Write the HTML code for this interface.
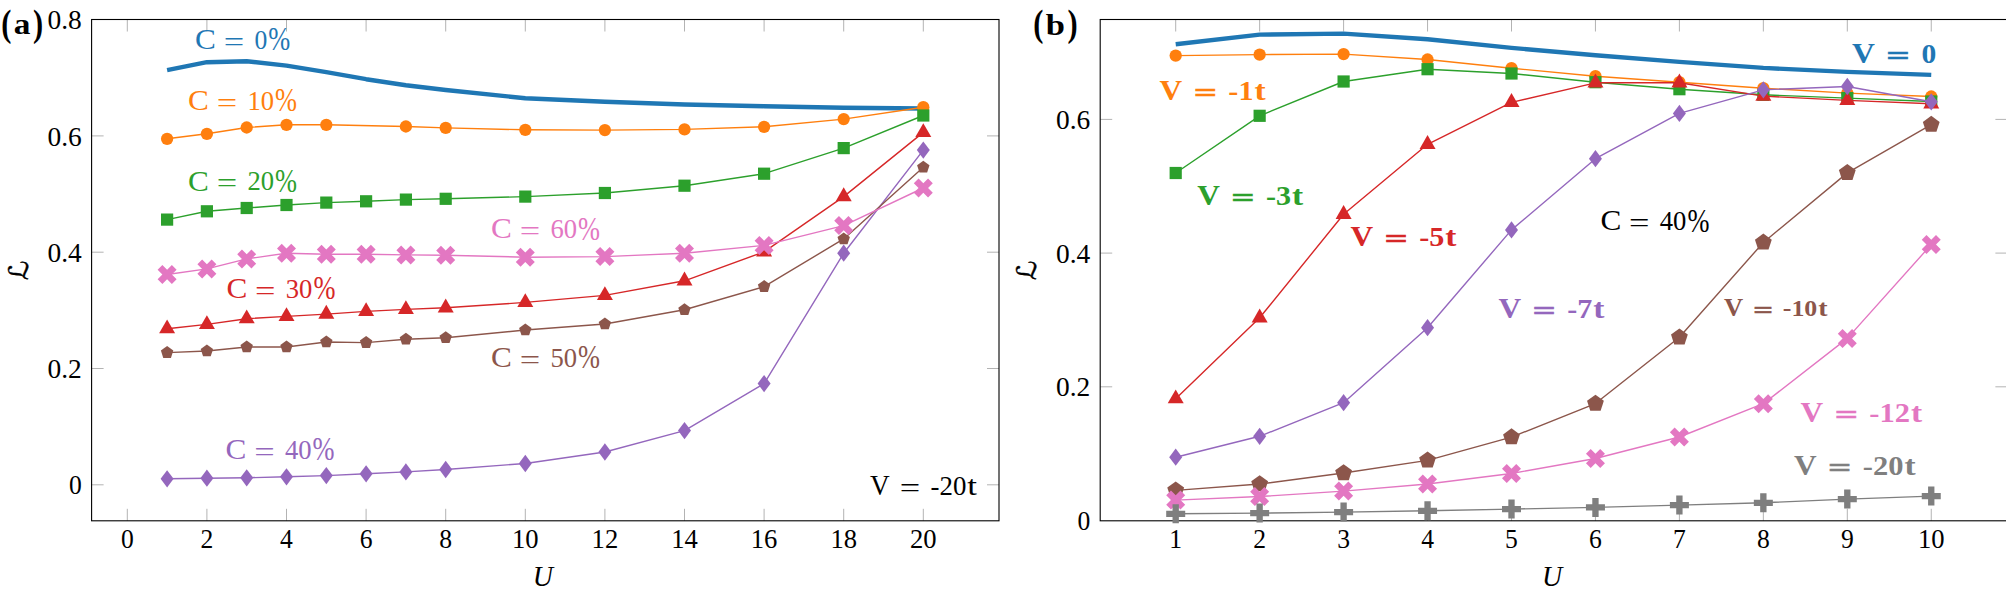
<!DOCTYPE html>
<html><head><meta charset="utf-8"><title>Localization plots</title>
<style>html,body{margin:0;padding:0;background:#fff}svg{display:block}</style>
</head><body>
<svg width="2006" height="595" viewBox="0 0 2006 595">
<rect width="2006" height="595" fill="#fff"/>
<g stroke="#7f7f7f" stroke-width="0.6" fill="none">
<path d="M127.3 520.8v-12.0M127.3 19.5v12.0"/>
<path d="M206.9 520.8v-12.0M206.9 19.5v12.0"/>
<path d="M286.5 520.8v-12.0M286.5 19.5v12.0"/>
<path d="M366.1 520.8v-12.0M366.1 19.5v12.0"/>
<path d="M445.7 520.8v-12.0M445.7 19.5v12.0"/>
<path d="M525.3 520.8v-12.0M525.3 19.5v12.0"/>
<path d="M604.9 520.8v-12.0M604.9 19.5v12.0"/>
<path d="M684.5 520.8v-12.0M684.5 19.5v12.0"/>
<path d="M764.1 520.8v-12.0M764.1 19.5v12.0"/>
<path d="M843.7 520.8v-12.0M843.7 19.5v12.0"/>
<path d="M923.3 520.8v-12.0M923.3 19.5v12.0"/>
<path d="M91.6 484.8h12.0M999 484.8h-12.0"/>
<path d="M91.6 368.5h12.0M999 368.5h-12.0"/>
<path d="M91.6 252.2h12.0M999 252.2h-12.0"/>
<path d="M91.6 135.9h12.0M999 135.9h-12.0"/>
</g>
<rect x="91.6" y="19.5" width="907.4" height="501.3" fill="none" stroke="#000" stroke-width="1.1"/>
<path d="M167.1 70.2 L206.9 62.2 L246.7 61.2 L286.5 65.6 L326.3 72.2 L366.1 79.2 L405.9 85.2 L445.7 90 L525.3 98.2 L604.9 101.8 L684.5 104.5 L764.1 106.2 L843.7 107.8 L923.3 108.5" fill="none" stroke="#1f77b4" stroke-width="4.4" stroke-linejoin="round" stroke-linecap="butt"/>
<path d="M167.1 138.8 L206.9 133.8 L246.7 127.5 L286.5 124.8 L326.3 124.8 L405.9 126.5 L445.7 127.9 L525.3 129.8 L604.9 130.1 L684.5 129.4 L764.1 126.8 L843.7 119.1 L923.3 107.2" fill="none" stroke="#ff7f0e" stroke-width="1.4" stroke-linejoin="round"/>
<circle cx="167.1" cy="138.8" r="6.15" fill="#ff7f0e"/>
<circle cx="206.9" cy="133.8" r="6.15" fill="#ff7f0e"/>
<circle cx="246.7" cy="127.5" r="6.15" fill="#ff7f0e"/>
<circle cx="286.5" cy="124.8" r="6.15" fill="#ff7f0e"/>
<circle cx="326.3" cy="124.8" r="6.15" fill="#ff7f0e"/>
<circle cx="405.9" cy="126.5" r="6.15" fill="#ff7f0e"/>
<circle cx="445.7" cy="127.9" r="6.15" fill="#ff7f0e"/>
<circle cx="525.3" cy="129.8" r="6.15" fill="#ff7f0e"/>
<circle cx="604.9" cy="130.1" r="6.15" fill="#ff7f0e"/>
<circle cx="684.5" cy="129.4" r="6.15" fill="#ff7f0e"/>
<circle cx="764.1" cy="126.8" r="6.15" fill="#ff7f0e"/>
<circle cx="843.7" cy="119.1" r="6.15" fill="#ff7f0e"/>
<circle cx="923.3" cy="107.2" r="6.15" fill="#ff7f0e"/>
<path d="M167.1 219.6 L206.9 211.3 L246.7 208 L286.5 205 L326.3 202.6 L366.1 201.3 L405.9 199.6 L445.7 198.8 L525.3 196.6 L604.9 193 L684.5 185.7 L764.1 173.7 L843.7 148.1 L923.3 115.5" fill="none" stroke="#2ca02c" stroke-width="1.4" stroke-linejoin="round"/>
<rect x="161" y="213.5" width="12.2" height="12.2" fill="#2ca02c"/>
<rect x="200.8" y="205.2" width="12.2" height="12.2" fill="#2ca02c"/>
<rect x="240.6" y="201.9" width="12.2" height="12.2" fill="#2ca02c"/>
<rect x="280.4" y="198.9" width="12.2" height="12.2" fill="#2ca02c"/>
<rect x="320.2" y="196.5" width="12.2" height="12.2" fill="#2ca02c"/>
<rect x="360" y="195.2" width="12.2" height="12.2" fill="#2ca02c"/>
<rect x="399.8" y="193.5" width="12.2" height="12.2" fill="#2ca02c"/>
<rect x="439.6" y="192.7" width="12.2" height="12.2" fill="#2ca02c"/>
<rect x="519.2" y="190.5" width="12.2" height="12.2" fill="#2ca02c"/>
<rect x="598.8" y="186.9" width="12.2" height="12.2" fill="#2ca02c"/>
<rect x="678.4" y="179.6" width="12.2" height="12.2" fill="#2ca02c"/>
<rect x="758" y="167.6" width="12.2" height="12.2" fill="#2ca02c"/>
<rect x="837.6" y="142" width="12.2" height="12.2" fill="#2ca02c"/>
<rect x="917.2" y="109.4" width="12.2" height="12.2" fill="#2ca02c"/>
<path d="M167.1 328.71 L206.9 324.41 L246.7 318.71 L286.5 316.41 L326.3 314.11 L366.1 311.41 L405.9 309.41 L445.7 307.81 L525.3 302.41 L604.9 295.41 L684.5 280.81 L764.1 251.81 L843.7 196.61 L923.3 132.41" fill="none" stroke="#d62728" stroke-width="1.4" stroke-linejoin="round"/>
<polygon points="167.1,319.47 159.1,333.33 175.1,333.33" fill="#d62728"/>
<polygon points="206.9,315.17 198.9,329.03 214.9,329.03" fill="#d62728"/>
<polygon points="246.7,309.47 238.7,323.33 254.7,323.33" fill="#d62728"/>
<polygon points="286.5,307.17 278.5,321.03 294.5,321.03" fill="#d62728"/>
<polygon points="326.3,304.87 318.3,318.73 334.3,318.73" fill="#d62728"/>
<polygon points="366.1,302.17 358.1,316.03 374.1,316.03" fill="#d62728"/>
<polygon points="405.9,300.17 397.9,314.03 413.9,314.03" fill="#d62728"/>
<polygon points="445.7,298.57 437.7,312.43 453.7,312.43" fill="#d62728"/>
<polygon points="525.3,293.17 517.3,307.03 533.3,307.03" fill="#d62728"/>
<polygon points="604.9,286.17 596.9,300.03 612.9,300.03" fill="#d62728"/>
<polygon points="684.5,271.57 676.5,285.43 692.5,285.43" fill="#d62728"/>
<polygon points="764.1,242.57 756.1,256.43 772.1,256.43" fill="#d62728"/>
<polygon points="843.7,187.37 835.7,201.23 851.7,201.23" fill="#d62728"/>
<polygon points="923.3,123.17 915.3,137.03 931.3,137.03" fill="#d62728"/>
<path d="M167.1 478.8 L206.9 478.2 L246.7 477.8 L286.5 476.8 L326.3 475.6 L366.1 473.8 L405.9 471.9 L445.7 469.5 L525.3 463.5 L604.9 452 L684.5 430.6 L764.1 383.6 L843.7 253.2 L923.3 150.1" fill="none" stroke="#9467bd" stroke-width="1.4" stroke-linejoin="round"/>
<polygon points="167.1,470.13 173.6,478.8 167.1,487.47 160.6,478.8" fill="#9467bd"/>
<polygon points="206.9,469.53 213.4,478.2 206.9,486.87 200.4,478.2" fill="#9467bd"/>
<polygon points="246.7,469.13 253.2,477.8 246.7,486.47 240.2,477.8" fill="#9467bd"/>
<polygon points="286.5,468.13 293,476.8 286.5,485.47 280,476.8" fill="#9467bd"/>
<polygon points="326.3,466.93 332.8,475.6 326.3,484.27 319.8,475.6" fill="#9467bd"/>
<polygon points="366.1,465.13 372.6,473.8 366.1,482.47 359.6,473.8" fill="#9467bd"/>
<polygon points="405.9,463.23 412.4,471.9 405.9,480.57 399.4,471.9" fill="#9467bd"/>
<polygon points="445.7,460.83 452.2,469.5 445.7,478.17 439.2,469.5" fill="#9467bd"/>
<polygon points="525.3,454.83 531.8,463.5 525.3,472.17 518.8,463.5" fill="#9467bd"/>
<polygon points="604.9,443.33 611.4,452 604.9,460.67 598.4,452" fill="#9467bd"/>
<polygon points="684.5,421.93 691,430.6 684.5,439.27 678,430.6" fill="#9467bd"/>
<polygon points="764.1,374.93 770.6,383.6 764.1,392.27 757.6,383.6" fill="#9467bd"/>
<polygon points="843.7,244.53 850.2,253.2 843.7,261.87 837.2,253.2" fill="#9467bd"/>
<polygon points="923.3,141.43 929.8,150.1 923.3,158.77 916.8,150.1" fill="#9467bd"/>
<path d="M167.1 352.62 L206.9 351.02 L246.7 347.02 L286.5 347.02 L326.3 342.02 L366.1 342.62 L405.9 339.32 L445.7 337.72 L525.3 330.02 L604.9 324.02 L684.5 309.72 L764.1 286.62 L843.7 238.92 L923.3 167.32" fill="none" stroke="#8c564b" stroke-width="1.4" stroke-linejoin="round"/>
<polygon points="167.1,346.1 173.3,350.61 170.93,357.9 163.27,357.9 160.9,350.61" fill="#8c564b"/>
<polygon points="206.9,344.5 213.1,349.01 210.73,356.3 203.07,356.3 200.7,349.01" fill="#8c564b"/>
<polygon points="246.7,340.5 252.9,345.01 250.53,352.3 242.87,352.3 240.5,345.01" fill="#8c564b"/>
<polygon points="286.5,340.5 292.7,345.01 290.33,352.3 282.67,352.3 280.3,345.01" fill="#8c564b"/>
<polygon points="326.3,335.5 332.5,340.01 330.13,347.3 322.47,347.3 320.1,340.01" fill="#8c564b"/>
<polygon points="366.1,336.1 372.3,340.61 369.93,347.9 362.27,347.9 359.9,340.61" fill="#8c564b"/>
<polygon points="405.9,332.8 412.1,337.31 409.73,344.6 402.07,344.6 399.7,337.31" fill="#8c564b"/>
<polygon points="445.7,331.2 451.9,335.71 449.53,343 441.87,343 439.5,335.71" fill="#8c564b"/>
<polygon points="525.3,323.5 531.5,328.01 529.13,335.3 521.47,335.3 519.1,328.01" fill="#8c564b"/>
<polygon points="604.9,317.5 611.1,322.01 608.73,329.3 601.07,329.3 598.7,322.01" fill="#8c564b"/>
<polygon points="684.5,303.2 690.7,307.71 688.33,315 680.67,315 678.3,307.71" fill="#8c564b"/>
<polygon points="764.1,280.1 770.3,284.61 767.93,291.9 760.27,291.9 757.9,284.61" fill="#8c564b"/>
<polygon points="843.7,232.4 849.9,236.91 847.53,244.2 839.87,244.2 837.5,236.91" fill="#8c564b"/>
<polygon points="923.3,160.8 929.5,165.31 927.13,172.6 919.47,172.6 917.1,165.31" fill="#8c564b"/>
<path d="M167.1 274.5 L206.9 268.9 L246.7 258.9 L286.5 253.2 L326.3 254.2 L366.1 254.2 L405.9 254.9 L445.7 255.2 L525.3 257.2 L604.9 256.6 L684.5 253.2 L764.1 245.4 L843.7 225.6 L923.3 188" fill="none" stroke="#e377c2" stroke-width="1.4" stroke-linejoin="round"/>
<polygon points="162.35,265 167.1,269.75 171.85,265 176.6,269.75 171.85,274.5 176.6,279.25 171.85,284 167.1,279.25 162.35,284 157.6,279.25 162.35,274.5 157.6,269.75" fill="#e377c2"/>
<polygon points="202.15,259.4 206.9,264.15 211.65,259.4 216.4,264.15 211.65,268.9 216.4,273.65 211.65,278.4 206.9,273.65 202.15,278.4 197.4,273.65 202.15,268.9 197.4,264.15" fill="#e377c2"/>
<polygon points="241.95,249.4 246.7,254.15 251.45,249.4 256.2,254.15 251.45,258.9 256.2,263.65 251.45,268.4 246.7,263.65 241.95,268.4 237.2,263.65 241.95,258.9 237.2,254.15" fill="#e377c2"/>
<polygon points="281.75,243.7 286.5,248.45 291.25,243.7 296,248.45 291.25,253.2 296,257.95 291.25,262.7 286.5,257.95 281.75,262.7 277,257.95 281.75,253.2 277,248.45" fill="#e377c2"/>
<polygon points="321.55,244.7 326.3,249.45 331.05,244.7 335.8,249.45 331.05,254.2 335.8,258.95 331.05,263.7 326.3,258.95 321.55,263.7 316.8,258.95 321.55,254.2 316.8,249.45" fill="#e377c2"/>
<polygon points="361.35,244.7 366.1,249.45 370.85,244.7 375.6,249.45 370.85,254.2 375.6,258.95 370.85,263.7 366.1,258.95 361.35,263.7 356.6,258.95 361.35,254.2 356.6,249.45" fill="#e377c2"/>
<polygon points="401.15,245.4 405.9,250.15 410.65,245.4 415.4,250.15 410.65,254.9 415.4,259.65 410.65,264.4 405.9,259.65 401.15,264.4 396.4,259.65 401.15,254.9 396.4,250.15" fill="#e377c2"/>
<polygon points="440.95,245.7 445.7,250.45 450.45,245.7 455.2,250.45 450.45,255.2 455.2,259.95 450.45,264.7 445.7,259.95 440.95,264.7 436.2,259.95 440.95,255.2 436.2,250.45" fill="#e377c2"/>
<polygon points="520.55,247.7 525.3,252.45 530.05,247.7 534.8,252.45 530.05,257.2 534.8,261.95 530.05,266.7 525.3,261.95 520.55,266.7 515.8,261.95 520.55,257.2 515.8,252.45" fill="#e377c2"/>
<polygon points="600.15,247.1 604.9,251.85 609.65,247.1 614.4,251.85 609.65,256.6 614.4,261.35 609.65,266.1 604.9,261.35 600.15,266.1 595.4,261.35 600.15,256.6 595.4,251.85" fill="#e377c2"/>
<polygon points="679.75,243.7 684.5,248.45 689.25,243.7 694,248.45 689.25,253.2 694,257.95 689.25,262.7 684.5,257.95 679.75,262.7 675,257.95 679.75,253.2 675,248.45" fill="#e377c2"/>
<polygon points="759.35,235.9 764.1,240.65 768.85,235.9 773.6,240.65 768.85,245.4 773.6,250.15 768.85,254.9 764.1,250.15 759.35,254.9 754.6,250.15 759.35,245.4 754.6,240.65" fill="#e377c2"/>
<polygon points="838.95,216.1 843.7,220.85 848.45,216.1 853.2,220.85 848.45,225.6 853.2,230.35 848.45,235.1 843.7,230.35 838.95,235.1 834.2,230.35 838.95,225.6 834.2,220.85" fill="#e377c2"/>
<polygon points="918.55,178.5 923.3,183.25 928.05,178.5 932.8,183.25 928.05,188 932.8,192.75 928.05,197.5 923.3,192.75 918.55,197.5 913.8,192.75 918.55,188 913.8,183.25" fill="#e377c2"/>
<g stroke="#7f7f7f" stroke-width="0.6" fill="none">
<path d="M1175.7 520.8v-12.0M1175.7 19.5v12.0"/>
<path d="M1259.65 520.8v-12.0M1259.65 19.5v12.0"/>
<path d="M1343.6 520.8v-12.0M1343.6 19.5v12.0"/>
<path d="M1427.55 520.8v-12.0M1427.55 19.5v12.0"/>
<path d="M1511.5 520.8v-12.0M1511.5 19.5v12.0"/>
<path d="M1595.45 520.8v-12.0M1595.45 19.5v12.0"/>
<path d="M1679.4 520.8v-12.0M1679.4 19.5v12.0"/>
<path d="M1763.35 520.8v-12.0M1763.35 19.5v12.0"/>
<path d="M1847.3 520.8v-12.0M1847.3 19.5v12.0"/>
<path d="M1931.25 520.8v-12.0M1931.25 19.5v12.0"/>
<path d="M1100.2 386.8h12.0M2007.4 386.8h-12.0"/>
<path d="M1100.2 253.1h12.0M2007.4 253.1h-12.0"/>
<path d="M1100.2 119.4h12.0M2007.4 119.4h-12.0"/>
</g>
<rect x="1100.2" y="19.5" width="907.2" height="501.3" fill="none" stroke="#000" stroke-width="1.1"/>
<path d="M1175.7 44.2 L1259.65 34.6 L1343.6 33.6 L1427.55 39.3 L1511.5 47.9 L1595.45 55.2 L1679.4 61.9 L1763.35 67.9 L1847.3 71.9 L1931.25 74.9" fill="none" stroke="#1f77b4" stroke-width="4.4" stroke-linejoin="round" stroke-linecap="butt"/>
<path d="M1175.7 55.6 L1259.65 54.6 L1343.6 54.1 L1427.55 59.5 L1511.5 68.2 L1595.45 76.2 L1679.4 82.2 L1763.35 88.2 L1847.3 93.1 L1931.25 96.5" fill="none" stroke="#ff7f0e" stroke-width="1.4" stroke-linejoin="round"/>
<circle cx="1175.7" cy="55.6" r="6.15" fill="#ff7f0e"/>
<circle cx="1259.65" cy="54.6" r="6.15" fill="#ff7f0e"/>
<circle cx="1343.6" cy="54.1" r="6.15" fill="#ff7f0e"/>
<circle cx="1427.55" cy="59.5" r="6.15" fill="#ff7f0e"/>
<circle cx="1511.5" cy="68.2" r="6.15" fill="#ff7f0e"/>
<circle cx="1595.45" cy="76.2" r="6.15" fill="#ff7f0e"/>
<circle cx="1679.4" cy="82.2" r="6.15" fill="#ff7f0e"/>
<circle cx="1763.35" cy="88.2" r="6.15" fill="#ff7f0e"/>
<circle cx="1847.3" cy="93.1" r="6.15" fill="#ff7f0e"/>
<circle cx="1931.25" cy="96.5" r="6.15" fill="#ff7f0e"/>
<path d="M1175.7 173 L1259.65 115.8 L1343.6 81.5 L1427.55 69.2 L1511.5 73.5 L1595.45 82.2 L1679.4 89.2 L1763.35 94.8 L1847.3 98.1 L1931.25 101.5" fill="none" stroke="#2ca02c" stroke-width="1.4" stroke-linejoin="round"/>
<rect x="1169.6" y="166.9" width="12.2" height="12.2" fill="#2ca02c"/>
<rect x="1253.55" y="109.7" width="12.2" height="12.2" fill="#2ca02c"/>
<rect x="1337.5" y="75.4" width="12.2" height="12.2" fill="#2ca02c"/>
<rect x="1421.45" y="63.1" width="12.2" height="12.2" fill="#2ca02c"/>
<rect x="1505.4" y="67.4" width="12.2" height="12.2" fill="#2ca02c"/>
<rect x="1589.35" y="76.1" width="12.2" height="12.2" fill="#2ca02c"/>
<rect x="1673.3" y="83.1" width="12.2" height="12.2" fill="#2ca02c"/>
<rect x="1757.25" y="88.7" width="12.2" height="12.2" fill="#2ca02c"/>
<rect x="1841.2" y="92" width="12.2" height="12.2" fill="#2ca02c"/>
<rect x="1925.15" y="95.4" width="12.2" height="12.2" fill="#2ca02c"/>
<path d="M1175.7 398.71 L1259.65 317.81 L1343.6 214.31 L1427.55 144.31 L1511.5 102.31 L1595.45 82.81 L1679.4 82.81 L1763.35 96.11 L1847.3 100.41 L1931.25 103.81" fill="none" stroke="#d62728" stroke-width="1.4" stroke-linejoin="round"/>
<polygon points="1175.7,389.47 1167.7,403.33 1183.7,403.33" fill="#d62728"/>
<polygon points="1259.65,308.57 1251.65,322.43 1267.65,322.43" fill="#d62728"/>
<polygon points="1343.6,205.07 1335.6,218.93 1351.6,218.93" fill="#d62728"/>
<polygon points="1427.55,135.07 1419.55,148.93 1435.55,148.93" fill="#d62728"/>
<polygon points="1511.5,93.07 1503.5,106.93 1519.5,106.93" fill="#d62728"/>
<polygon points="1595.45,73.57 1587.45,87.43 1603.45,87.43" fill="#d62728"/>
<polygon points="1679.4,73.57 1671.4,87.43 1687.4,87.43" fill="#d62728"/>
<polygon points="1763.35,86.87 1755.35,100.73 1771.35,100.73" fill="#d62728"/>
<polygon points="1847.3,91.17 1839.3,105.03 1855.3,105.03" fill="#d62728"/>
<polygon points="1931.25,94.57 1923.25,108.43 1939.25,108.43" fill="#d62728"/>
<path d="M1175.7 457.2 L1259.65 436.3 L1343.6 402.7 L1427.55 327.7 L1511.5 229.9 L1595.45 158.7 L1679.4 113.4 L1763.35 89.8 L1847.3 86.5 L1931.25 101.8" fill="none" stroke="#9467bd" stroke-width="1.4" stroke-linejoin="round"/>
<polygon points="1175.7,448.53 1182.2,457.2 1175.7,465.87 1169.2,457.2" fill="#9467bd"/>
<polygon points="1259.65,427.63 1266.15,436.3 1259.65,444.97 1253.15,436.3" fill="#9467bd"/>
<polygon points="1343.6,394.03 1350.1,402.7 1343.6,411.37 1337.1,402.7" fill="#9467bd"/>
<polygon points="1427.55,319.03 1434.05,327.7 1427.55,336.37 1421.05,327.7" fill="#9467bd"/>
<polygon points="1511.5,221.23 1518,229.9 1511.5,238.57 1505,229.9" fill="#9467bd"/>
<polygon points="1595.45,150.03 1601.95,158.7 1595.45,167.37 1588.95,158.7" fill="#9467bd"/>
<polygon points="1679.4,104.73 1685.9,113.4 1679.4,122.07 1672.9,113.4" fill="#9467bd"/>
<polygon points="1763.35,81.13 1769.85,89.8 1763.35,98.47 1756.85,89.8" fill="#9467bd"/>
<polygon points="1847.3,77.83 1853.8,86.5 1847.3,95.17 1840.8,86.5" fill="#9467bd"/>
<polygon points="1931.25,93.13 1937.75,101.8 1931.25,110.47 1924.75,101.8" fill="#9467bd"/>
<path d="M1175.7 490.34 L1259.65 484.04 L1343.6 473.04 L1427.55 460.34 L1511.5 437.14 L1595.45 403.54 L1679.4 337.24 L1763.35 242.44 L1847.3 172.84 L1931.25 124.64" fill="none" stroke="#8c564b" stroke-width="1.4" stroke-linejoin="round"/>
<polygon points="1175.7,481.51 1184.1,487.61 1180.89,497.49 1170.51,497.49 1167.3,487.61" fill="#8c564b"/>
<polygon points="1259.65,475.21 1268.05,481.31 1264.84,491.19 1254.46,491.19 1251.25,481.31" fill="#8c564b"/>
<polygon points="1343.6,464.21 1352,470.31 1348.79,480.19 1338.41,480.19 1335.2,470.31" fill="#8c564b"/>
<polygon points="1427.55,451.51 1435.95,457.61 1432.74,467.49 1422.36,467.49 1419.15,457.61" fill="#8c564b"/>
<polygon points="1511.5,428.31 1519.9,434.41 1516.69,444.29 1506.31,444.29 1503.1,434.41" fill="#8c564b"/>
<polygon points="1595.45,394.71 1603.85,400.81 1600.64,410.69 1590.26,410.69 1587.05,400.81" fill="#8c564b"/>
<polygon points="1679.4,328.41 1687.8,334.51 1684.59,344.39 1674.21,344.39 1671,334.51" fill="#8c564b"/>
<polygon points="1763.35,233.61 1771.75,239.71 1768.54,249.59 1758.16,249.59 1754.95,239.71" fill="#8c564b"/>
<polygon points="1847.3,164.01 1855.7,170.11 1852.49,179.99 1842.11,179.99 1838.9,170.11" fill="#8c564b"/>
<polygon points="1931.25,115.81 1939.65,121.91 1936.44,131.79 1926.06,131.79 1922.85,121.91" fill="#8c564b"/>
<path d="M1175.7 500.1 L1259.65 496.5 L1343.6 491.1 L1427.55 484 L1511.5 473.5 L1595.45 458.5 L1679.4 437 L1763.35 403.7 L1847.3 338.4 L1931.25 244.6" fill="none" stroke="#e377c2" stroke-width="1.4" stroke-linejoin="round"/>
<polygon points="1170.95,490.6 1175.7,495.35 1180.45,490.6 1185.2,495.35 1180.45,500.1 1185.2,504.85 1180.45,509.6 1175.7,504.85 1170.95,509.6 1166.2,504.85 1170.95,500.1 1166.2,495.35" fill="#e377c2"/>
<polygon points="1254.9,487 1259.65,491.75 1264.4,487 1269.15,491.75 1264.4,496.5 1269.15,501.25 1264.4,506 1259.65,501.25 1254.9,506 1250.15,501.25 1254.9,496.5 1250.15,491.75" fill="#e377c2"/>
<polygon points="1338.85,481.6 1343.6,486.35 1348.35,481.6 1353.1,486.35 1348.35,491.1 1353.1,495.85 1348.35,500.6 1343.6,495.85 1338.85,500.6 1334.1,495.85 1338.85,491.1 1334.1,486.35" fill="#e377c2"/>
<polygon points="1422.8,474.5 1427.55,479.25 1432.3,474.5 1437.05,479.25 1432.3,484 1437.05,488.75 1432.3,493.5 1427.55,488.75 1422.8,493.5 1418.05,488.75 1422.8,484 1418.05,479.25" fill="#e377c2"/>
<polygon points="1506.75,464 1511.5,468.75 1516.25,464 1521,468.75 1516.25,473.5 1521,478.25 1516.25,483 1511.5,478.25 1506.75,483 1502,478.25 1506.75,473.5 1502,468.75" fill="#e377c2"/>
<polygon points="1590.7,449 1595.45,453.75 1600.2,449 1604.95,453.75 1600.2,458.5 1604.95,463.25 1600.2,468 1595.45,463.25 1590.7,468 1585.95,463.25 1590.7,458.5 1585.95,453.75" fill="#e377c2"/>
<polygon points="1674.65,427.5 1679.4,432.25 1684.15,427.5 1688.9,432.25 1684.15,437 1688.9,441.75 1684.15,446.5 1679.4,441.75 1674.65,446.5 1669.9,441.75 1674.65,437 1669.9,432.25" fill="#e377c2"/>
<polygon points="1758.6,394.2 1763.35,398.95 1768.1,394.2 1772.85,398.95 1768.1,403.7 1772.85,408.45 1768.1,413.2 1763.35,408.45 1758.6,413.2 1753.85,408.45 1758.6,403.7 1753.85,398.95" fill="#e377c2"/>
<polygon points="1842.55,328.9 1847.3,333.65 1852.05,328.9 1856.8,333.65 1852.05,338.4 1856.8,343.15 1852.05,347.9 1847.3,343.15 1842.55,347.9 1837.8,343.15 1842.55,338.4 1837.8,333.65" fill="#e377c2"/>
<polygon points="1926.5,235.1 1931.25,239.85 1936,235.1 1940.75,239.85 1936,244.6 1940.75,249.35 1936,254.1 1931.25,249.35 1926.5,254.1 1921.75,249.35 1926.5,244.6 1921.75,239.85" fill="#e377c2"/>
<path d="M1175.7 513.8 L1259.65 513.1 L1343.6 512.1 L1427.55 510.8 L1511.5 509.1 L1595.45 507.4 L1679.4 505.1 L1763.35 502.8 L1847.3 499.1 L1931.25 496.1" fill="none" stroke="#7f7f7f" stroke-width="1.4" stroke-linejoin="round"/>
<polygon points="1172.53,504.3 1178.87,504.3 1178.87,510.63 1185.2,510.63 1185.2,516.97 1178.87,516.97 1178.87,523.3 1172.53,523.3 1172.53,516.97 1166.2,516.97 1166.2,510.63 1172.53,510.63" fill="#7f7f7f"/>
<polygon points="1256.48,503.6 1262.82,503.6 1262.82,509.93 1269.15,509.93 1269.15,516.27 1262.82,516.27 1262.82,522.6 1256.48,522.6 1256.48,516.27 1250.15,516.27 1250.15,509.93 1256.48,509.93" fill="#7f7f7f"/>
<polygon points="1340.43,502.6 1346.77,502.6 1346.77,508.93 1353.1,508.93 1353.1,515.27 1346.77,515.27 1346.77,521.6 1340.43,521.6 1340.43,515.27 1334.1,515.27 1334.1,508.93 1340.43,508.93" fill="#7f7f7f"/>
<polygon points="1424.38,501.3 1430.72,501.3 1430.72,507.63 1437.05,507.63 1437.05,513.97 1430.72,513.97 1430.72,520.3 1424.38,520.3 1424.38,513.97 1418.05,513.97 1418.05,507.63 1424.38,507.63" fill="#7f7f7f"/>
<polygon points="1508.33,499.6 1514.67,499.6 1514.67,505.93 1521,505.93 1521,512.27 1514.67,512.27 1514.67,518.6 1508.33,518.6 1508.33,512.27 1502,512.27 1502,505.93 1508.33,505.93" fill="#7f7f7f"/>
<polygon points="1592.28,497.9 1598.62,497.9 1598.62,504.23 1604.95,504.23 1604.95,510.57 1598.62,510.57 1598.62,516.9 1592.28,516.9 1592.28,510.57 1585.95,510.57 1585.95,504.23 1592.28,504.23" fill="#7f7f7f"/>
<polygon points="1676.23,495.6 1682.57,495.6 1682.57,501.93 1688.9,501.93 1688.9,508.27 1682.57,508.27 1682.57,514.6 1676.23,514.6 1676.23,508.27 1669.9,508.27 1669.9,501.93 1676.23,501.93" fill="#7f7f7f"/>
<polygon points="1760.18,493.3 1766.52,493.3 1766.52,499.63 1772.85,499.63 1772.85,505.97 1766.52,505.97 1766.52,512.3 1760.18,512.3 1760.18,505.97 1753.85,505.97 1753.85,499.63 1760.18,499.63" fill="#7f7f7f"/>
<polygon points="1844.13,489.6 1850.47,489.6 1850.47,495.93 1856.8,495.93 1856.8,502.27 1850.47,502.27 1850.47,508.6 1844.13,508.6 1844.13,502.27 1837.8,502.27 1837.8,495.93 1844.13,495.93" fill="#7f7f7f"/>
<polygon points="1928.08,486.6 1934.42,486.6 1934.42,492.93 1940.75,492.93 1940.75,499.27 1934.42,499.27 1934.42,505.6 1928.08,505.6 1928.08,499.27 1921.75,499.27 1921.75,492.93 1928.08,492.93" fill="#7f7f7f"/>
<g font-family='"Liberation Serif", "DejaVu Serif", serif'>
<text fill="#000"><tspan x="120.9" y="548.4" font-size="27.19" textLength="12.8" lengthAdjust="spacingAndGlyphs">0</tspan></text>
<text fill="#000"><tspan x="200.5" y="548.4" font-size="27.19" textLength="12.8" lengthAdjust="spacingAndGlyphs">2</tspan></text>
<text fill="#000"><tspan x="280.1" y="548.4" font-size="27.19" textLength="12.8" lengthAdjust="spacingAndGlyphs">4</tspan></text>
<text fill="#000"><tspan x="359.7" y="548.4" font-size="27.19" textLength="12.8" lengthAdjust="spacingAndGlyphs">6</tspan></text>
<text fill="#000"><tspan x="439.3" y="548.4" font-size="27.19" textLength="12.8" lengthAdjust="spacingAndGlyphs">8</tspan></text>
<text fill="#000"><tspan x="512" y="548.4" font-size="27.19" textLength="26.6" lengthAdjust="spacingAndGlyphs">10</tspan></text>
<text fill="#000"><tspan x="591.6" y="548.4" font-size="27.19" textLength="26.6" lengthAdjust="spacingAndGlyphs">12</tspan></text>
<text fill="#000"><tspan x="671.2" y="548.4" font-size="27.19" textLength="26.6" lengthAdjust="spacingAndGlyphs">14</tspan></text>
<text fill="#000"><tspan x="750.8" y="548.4" font-size="27.19" textLength="26.6" lengthAdjust="spacingAndGlyphs">16</tspan></text>
<text fill="#000"><tspan x="830.4" y="548.4" font-size="27.19" textLength="26.6" lengthAdjust="spacingAndGlyphs">18</tspan></text>
<text fill="#000"><tspan x="910" y="548.4" font-size="27.19" textLength="26.6" lengthAdjust="spacingAndGlyphs">20</tspan></text>
<text fill="#000"><tspan x="69" y="494.4" font-size="27.19" textLength="12.8" lengthAdjust="spacingAndGlyphs">0</tspan></text>
<text fill="#000"><tspan x="47.53" y="378.1" font-size="27.19" textLength="34.27" lengthAdjust="spacingAndGlyphs">0.2</tspan></text>
<text fill="#000"><tspan x="47.53" y="261.8" font-size="27.19" textLength="34.27" lengthAdjust="spacingAndGlyphs">0.4</tspan></text>
<text fill="#000"><tspan x="47.53" y="145.5" font-size="27.19" textLength="34.27" lengthAdjust="spacingAndGlyphs">0.6</tspan></text>
<text fill="#000"><tspan x="47.53" y="29.2" font-size="27.19" textLength="34.27" lengthAdjust="spacingAndGlyphs">0.8</tspan></text>
<text fill="#000"><tspan x="1169.3" y="548.4" font-size="27.19" textLength="12.8" lengthAdjust="spacingAndGlyphs">1</tspan></text>
<text fill="#000"><tspan x="1253.25" y="548.4" font-size="27.19" textLength="12.8" lengthAdjust="spacingAndGlyphs">2</tspan></text>
<text fill="#000"><tspan x="1337.2" y="548.4" font-size="27.19" textLength="12.8" lengthAdjust="spacingAndGlyphs">3</tspan></text>
<text fill="#000"><tspan x="1421.15" y="548.4" font-size="27.19" textLength="12.8" lengthAdjust="spacingAndGlyphs">4</tspan></text>
<text fill="#000"><tspan x="1505.1" y="548.4" font-size="27.19" textLength="12.8" lengthAdjust="spacingAndGlyphs">5</tspan></text>
<text fill="#000"><tspan x="1589.05" y="548.4" font-size="27.19" textLength="12.8" lengthAdjust="spacingAndGlyphs">6</tspan></text>
<text fill="#000"><tspan x="1673" y="548.4" font-size="27.19" textLength="12.8" lengthAdjust="spacingAndGlyphs">7</tspan></text>
<text fill="#000"><tspan x="1756.95" y="548.4" font-size="27.19" textLength="12.8" lengthAdjust="spacingAndGlyphs">8</tspan></text>
<text fill="#000"><tspan x="1840.9" y="548.4" font-size="27.19" textLength="12.8" lengthAdjust="spacingAndGlyphs">9</tspan></text>
<text fill="#000"><tspan x="1917.95" y="548.4" font-size="27.19" textLength="26.6" lengthAdjust="spacingAndGlyphs">10</tspan></text>
<text fill="#000"><tspan x="1077.5" y="530.1" font-size="27.19" textLength="12.8" lengthAdjust="spacingAndGlyphs">0</tspan></text>
<text fill="#000"><tspan x="1056.03" y="396.4" font-size="27.19" textLength="34.27" lengthAdjust="spacingAndGlyphs">0.2</tspan></text>
<text fill="#000"><tspan x="1056.03" y="262.7" font-size="27.19" textLength="34.27" lengthAdjust="spacingAndGlyphs">0.4</tspan></text>
<text fill="#000"><tspan x="1056.03" y="129" font-size="27.19" textLength="34.27" lengthAdjust="spacingAndGlyphs">0.6</tspan></text>
<text fill="#000" font-style="italic"><tspan x="532.8" y="586.4" font-size="28.84" textLength="20.25" lengthAdjust="spacingAndGlyphs">U</tspan></text>
<text fill="#000" font-style="italic"><tspan x="1542" y="586.4" font-size="28.84" textLength="20.25" lengthAdjust="spacingAndGlyphs">U</tspan></text>
<text transform="translate(28.0 270.3) rotate(-90)" text-anchor="middle" font-size="27" font-family='"DejaVu Sans", "DejaVu Serif", serif' stroke="#000" stroke-width="0.35">ℒ</text>
<text transform="translate(1036.0 270.3) rotate(-90)" text-anchor="middle" font-size="27" font-family='"DejaVu Sans", "DejaVu Serif", serif' stroke="#000" stroke-width="0.35">ℒ</text>
<text fill="#000" font-weight="bold"><tspan x="1.2" y="35.62" font-size="37.29" textLength="10.13" lengthAdjust="spacingAndGlyphs">(</tspan><tspan x="13.83" y="34.2" font-size="30.02" textLength="16.66" lengthAdjust="spacingAndGlyphs">a</tspan><tspan x="32.99" y="35.62" font-size="37.29" textLength="10.13" lengthAdjust="spacingAndGlyphs">)</tspan></text>
<text fill="#000" font-weight="bold"><tspan x="1033.2" y="36.42" font-size="37.29" textLength="10.13" lengthAdjust="spacingAndGlyphs">(</tspan><tspan x="1045.83" y="35" font-size="30.02" textLength="19.19" lengthAdjust="spacingAndGlyphs">b</tspan><tspan x="1067.52" y="36.42" font-size="37.29" textLength="10.13" lengthAdjust="spacingAndGlyphs">)</tspan></text>
<text fill="#1f77b4"><tspan x="195" y="49.18" font-size="30.36" textLength="20.83" lengthAdjust="spacingAndGlyphs">C</tspan> <tspan x="223.72" y="50.97" font-size="26.91" textLength="20.47" lengthAdjust="spacingAndGlyphs">=</tspan> <tspan x="254.38" y="48.9" font-size="27.19" textLength="12.8" lengthAdjust="spacingAndGlyphs">0</tspan><tspan x="268.18" y="50.28" font-size="33.4" textLength="21.99" lengthAdjust="spacingAndGlyphs">%</tspan></text>
<text fill="#ff7f0e"><tspan x="188.1" y="110.28" font-size="30.36" textLength="20.83" lengthAdjust="spacingAndGlyphs">C</tspan> <tspan x="216.82" y="112.07" font-size="26.91" textLength="20.47" lengthAdjust="spacingAndGlyphs">=</tspan> <tspan x="247.48" y="110" font-size="27.19" textLength="26.6" lengthAdjust="spacingAndGlyphs">10</tspan><tspan x="275.08" y="111.38" font-size="33.4" textLength="21.99" lengthAdjust="spacingAndGlyphs">%</tspan></text>
<text fill="#2ca02c"><tspan x="188.1" y="190.58" font-size="30.36" textLength="20.83" lengthAdjust="spacingAndGlyphs">C</tspan> <tspan x="216.82" y="192.37" font-size="26.91" textLength="20.47" lengthAdjust="spacingAndGlyphs">=</tspan> <tspan x="247.48" y="190.3" font-size="27.19" textLength="26.6" lengthAdjust="spacingAndGlyphs">20</tspan><tspan x="275.08" y="191.68" font-size="33.4" textLength="21.99" lengthAdjust="spacingAndGlyphs">%</tspan></text>
<text fill="#d62728"><tspan x="226.4" y="298.38" font-size="30.36" textLength="20.83" lengthAdjust="spacingAndGlyphs">C</tspan> <tspan x="255.12" y="300.17" font-size="26.91" textLength="20.47" lengthAdjust="spacingAndGlyphs">=</tspan> <tspan x="285.78" y="298.1" font-size="27.19" textLength="26.6" lengthAdjust="spacingAndGlyphs">30</tspan><tspan x="313.38" y="299.48" font-size="33.4" textLength="21.99" lengthAdjust="spacingAndGlyphs">%</tspan></text>
<text fill="#e377c2"><tspan x="491" y="238.48" font-size="30.36" textLength="20.83" lengthAdjust="spacingAndGlyphs">C</tspan> <tspan x="519.72" y="240.27" font-size="26.91" textLength="20.47" lengthAdjust="spacingAndGlyphs">=</tspan> <tspan x="550.38" y="238.2" font-size="27.19" textLength="26.6" lengthAdjust="spacingAndGlyphs">60</tspan><tspan x="577.98" y="239.58" font-size="33.4" textLength="21.99" lengthAdjust="spacingAndGlyphs">%</tspan></text>
<text fill="#8c564b"><tspan x="491" y="367.18" font-size="30.36" textLength="20.83" lengthAdjust="spacingAndGlyphs">C</tspan> <tspan x="519.72" y="368.97" font-size="26.91" textLength="20.47" lengthAdjust="spacingAndGlyphs">=</tspan> <tspan x="550.38" y="366.9" font-size="27.19" textLength="26.6" lengthAdjust="spacingAndGlyphs">50</tspan><tspan x="577.98" y="368.28" font-size="33.4" textLength="21.99" lengthAdjust="spacingAndGlyphs">%</tspan></text>
<text fill="#9467bd"><tspan x="225.6" y="458.88" font-size="30.36" textLength="20.83" lengthAdjust="spacingAndGlyphs">C</tspan> <tspan x="254.32" y="460.67" font-size="26.91" textLength="20.47" lengthAdjust="spacingAndGlyphs">=</tspan> <tspan x="284.98" y="458.6" font-size="27.19" textLength="26.6" lengthAdjust="spacingAndGlyphs">40</tspan><tspan x="312.58" y="459.98" font-size="33.4" textLength="21.99" lengthAdjust="spacingAndGlyphs">%</tspan></text>
<text fill="#000"><tspan x="870" y="495.1" font-size="28.84" textLength="19.7" lengthAdjust="spacingAndGlyphs">V</tspan> <tspan x="899.89" y="497.17" font-size="26.91" textLength="20.47" lengthAdjust="spacingAndGlyphs">=</tspan> <tspan x="930.55" y="495.1" font-size="27.19" textLength="35.79" lengthAdjust="spacingAndGlyphs">-20</tspan><tspan x="967.35" y="495.1" font-size="27.32" textLength="9.74" lengthAdjust="spacingAndGlyphs">t</tspan></text>
<text fill="#1f77b4" font-weight="bold"><tspan x="1851.9" y="62.8" font-size="28.74" textLength="22.9" lengthAdjust="spacingAndGlyphs">V</tspan> <tspan x="1886.33" y="64.86" font-size="26.81" textLength="23.59" lengthAdjust="spacingAndGlyphs" stroke="#1f77b4" stroke-width="0.5">=</tspan> <tspan x="1921.45" y="62.8" font-size="27.09" textLength="14.81" lengthAdjust="spacingAndGlyphs">0</tspan></text>
<text fill="#ff7f0e" font-weight="bold"><tspan x="1159.6" y="99.7" font-size="28.42" textLength="22.64" lengthAdjust="spacingAndGlyphs">V</tspan> <tspan x="1193.65" y="101.74" font-size="26.52" textLength="23.32" lengthAdjust="spacingAndGlyphs" stroke="#ff7f0e" stroke-width="0.5">=</tspan> <tspan x="1228.39" y="99.7" font-size="26.79" textLength="25.06" lengthAdjust="spacingAndGlyphs">-1</tspan><tspan x="1254.45" y="99.7" font-size="26.93" textLength="11.16" lengthAdjust="spacingAndGlyphs">t</tspan></text>
<text fill="#2ca02c" font-weight="bold"><tspan x="1197.2" y="204.6" font-size="28.42" textLength="22.64" lengthAdjust="spacingAndGlyphs">V</tspan> <tspan x="1231.25" y="206.64" font-size="26.52" textLength="23.32" lengthAdjust="spacingAndGlyphs" stroke="#2ca02c" stroke-width="0.5">=</tspan> <tspan x="1265.99" y="204.6" font-size="26.79" textLength="25.06" lengthAdjust="spacingAndGlyphs">-3</tspan><tspan x="1292.05" y="204.6" font-size="26.93" textLength="11.16" lengthAdjust="spacingAndGlyphs">t</tspan></text>
<text fill="#d62728" font-weight="bold"><tspan x="1350.5" y="245.5" font-size="28.42" textLength="22.64" lengthAdjust="spacingAndGlyphs">V</tspan> <tspan x="1384.55" y="247.54" font-size="26.52" textLength="23.32" lengthAdjust="spacingAndGlyphs" stroke="#d62728" stroke-width="0.5">=</tspan> <tspan x="1419.29" y="245.5" font-size="26.79" textLength="25.06" lengthAdjust="spacingAndGlyphs">-5</tspan><tspan x="1445.35" y="245.5" font-size="26.93" textLength="11.16" lengthAdjust="spacingAndGlyphs">t</tspan></text>
<text fill="#9467bd" font-weight="bold"><tspan x="1498.5" y="317.7" font-size="28.42" textLength="22.64" lengthAdjust="spacingAndGlyphs">V</tspan> <tspan x="1532.55" y="319.74" font-size="26.52" textLength="23.32" lengthAdjust="spacingAndGlyphs" stroke="#9467bd" stroke-width="0.5">=</tspan> <tspan x="1567.29" y="317.7" font-size="26.79" textLength="25.06" lengthAdjust="spacingAndGlyphs">-7</tspan><tspan x="1593.35" y="317.7" font-size="26.93" textLength="11.16" lengthAdjust="spacingAndGlyphs">t</tspan></text>
<text fill="#000"><tspan x="1600.4" y="230.48" font-size="30.36" textLength="20.83" lengthAdjust="spacingAndGlyphs">C</tspan> <tspan x="1629.12" y="232.27" font-size="26.91" textLength="20.47" lengthAdjust="spacingAndGlyphs">=</tspan> <tspan x="1659.78" y="230.2" font-size="27.19" textLength="26.6" lengthAdjust="spacingAndGlyphs">40</tspan><tspan x="1687.38" y="231.58" font-size="33.4" textLength="21.99" lengthAdjust="spacingAndGlyphs">%</tspan></text>
<text fill="#8c564b" font-weight="bold"><tspan x="1724.1" y="316" font-size="24.24" textLength="19.16" lengthAdjust="spacingAndGlyphs">V</tspan> <tspan x="1753.15" y="317.74" font-size="22.62" textLength="19.74" lengthAdjust="spacingAndGlyphs" stroke="#8c564b" stroke-width="0.5">=</tspan> <tspan x="1782.77" y="316" font-size="22.85" textLength="34.57" lengthAdjust="spacingAndGlyphs">-10</tspan><tspan x="1818.34" y="316" font-size="22.97" textLength="9.37" lengthAdjust="spacingAndGlyphs">t</tspan></text>
<text fill="#e377c2" font-weight="bold"><tspan x="1800.6" y="421.6" font-size="28.42" textLength="22.64" lengthAdjust="spacingAndGlyphs">V</tspan> <tspan x="1834.65" y="423.64" font-size="26.52" textLength="23.32" lengthAdjust="spacingAndGlyphs" stroke="#e377c2" stroke-width="0.5">=</tspan> <tspan x="1869.39" y="421.6" font-size="26.79" textLength="40.7" lengthAdjust="spacingAndGlyphs">-12</tspan><tspan x="1911.09" y="421.6" font-size="26.93" textLength="11.16" lengthAdjust="spacingAndGlyphs">t</tspan></text>
<text fill="#7f7f7f" font-weight="bold"><tspan x="1794" y="474.8" font-size="28.42" textLength="22.64" lengthAdjust="spacingAndGlyphs">V</tspan> <tspan x="1828.05" y="476.84" font-size="26.52" textLength="23.32" lengthAdjust="spacingAndGlyphs" stroke="#7f7f7f" stroke-width="0.5">=</tspan> <tspan x="1862.79" y="474.8" font-size="26.79" textLength="40.7" lengthAdjust="spacingAndGlyphs">-20</tspan><tspan x="1904.49" y="474.8" font-size="26.93" textLength="11.16" lengthAdjust="spacingAndGlyphs">t</tspan></text>
</g>
</svg>
</body></html>
